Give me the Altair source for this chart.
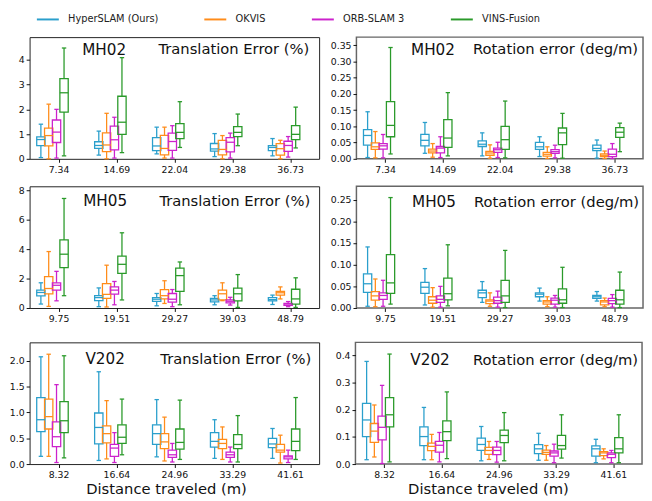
import altair as alt
import pandas as pd

METHODS = ["HyperSLAM (Ours)", "OKVIS", "ORB-SLAM 3", "VINS-Fusion"]
COLORS = ["#2a9fcc", "#ff8c1a", "#cc22cc", "#2a9a2a"]

MH02_DIST = ["7.34", "14.69", "22.04", "29.38", "36.73"]
MH05_DIST = ["9.75", "19.51", "29.27", "39.03", "48.79"]
V202_DIST = ["8.32", "16.64", "24.96", "33.29", "41.61"]

# each box: [whisker_low, q1, median, q3, whisker_high]; 4 methods per distance group
MH02_TRANS = [
    [0.05, 0.53, 0.78, 0.89, 1.40], [0.00, 0.52, 0.94, 1.24, 2.21], [0.03, 0.66, 1.08, 1.57, 2.00], [0.12, 1.89, 2.67, 3.24, 4.48],
    [0.15, 0.42, 0.54, 0.69, 1.12], [0.00, 0.29, 0.56, 1.05, 1.84], [0.03, 0.36, 0.77, 1.32, 1.68], [0.25, 0.99, 1.48, 2.53, 4.09],
    [0.20, 0.33, 0.52, 0.86, 1.28], [0.03, 0.16, 0.42, 0.95, 1.28], [0.03, 0.34, 0.70, 1.04, 1.34], [0.46, 0.82, 1.07, 1.42, 2.31],
    [0.09, 0.31, 0.40, 0.62, 1.02], [0.00, 0.16, 0.38, 0.75, 0.94], [0.03, 0.28, 0.67, 0.86, 1.04], [0.53, 0.90, 1.07, 1.30, 1.81],
    [0.12, 0.33, 0.46, 0.53, 0.82], [0.00, 0.15, 0.41, 0.61, 0.75], [0.07, 0.30, 0.54, 0.71, 0.90], [0.44, 0.78, 0.99, 1.34, 2.09],
]
MH02_ROT = [
    [0.004, 0.042, 0.072, 0.090, 0.145], [0.003, 0.029, 0.037, 0.049, 0.084], [0.003, 0.030, 0.040, 0.047, 0.075], [0.015, 0.068, 0.103, 0.176, 0.343],
    [0.017, 0.040, 0.057, 0.075, 0.112], [0.005, 0.018, 0.024, 0.030, 0.047], [0.004, 0.018, 0.033, 0.038, 0.068], [0.009, 0.035, 0.064, 0.121, 0.204],
    [0.009, 0.038, 0.045, 0.055, 0.080], [0.002, 0.011, 0.018, 0.023, 0.043], [0.004, 0.020, 0.028, 0.033, 0.051], [0.003, 0.029, 0.059, 0.100, 0.178],
    [0.007, 0.029, 0.037, 0.051, 0.068], [0.001, 0.008, 0.014, 0.020, 0.037], [0.003, 0.017, 0.022, 0.028, 0.042], [0.002, 0.044, 0.080, 0.095, 0.140],
    [0.002, 0.025, 0.032, 0.042, 0.058], [0.001, 0.007, 0.011, 0.015, 0.024], [0.001, 0.007, 0.014, 0.030, 0.047], [0.022, 0.066, 0.082, 0.096, 0.110],
]
MH05_TRANS = [
    [0.27, 0.82, 1.06, 1.22, 1.72], [0.11, 0.97, 1.33, 2.14, 3.85], [0.49, 1.22, 1.55, 1.72, 2.50], [0.84, 2.76, 3.67, 4.64, 7.47],
    [0.09, 0.51, 0.71, 0.84, 1.37], [0.07, 0.66, 0.93, 1.66, 2.92], [0.22, 0.95, 1.22, 1.44, 1.81], [0.55, 2.36, 2.98, 3.54, 5.13],
    [0.15, 0.46, 0.60, 0.71, 0.99], [0.31, 0.62, 0.84, 1.26, 1.86], [0.09, 0.40, 0.60, 0.99, 1.26], [0.22, 1.13, 2.21, 2.72, 3.14],
    [0.22, 0.42, 0.55, 0.66, 0.84], [0.50, 0.55, 0.97, 1.22, 1.72], [0.20, 0.35, 0.46, 0.55, 0.73], [0.04, 0.49, 0.97, 1.35, 2.28],
    [0.24, 0.49, 0.57, 0.71, 0.88], [0.62, 0.88, 1.04, 1.13, 1.44], [0.09, 0.18, 0.27, 0.31, 0.44], [0.04, 0.27, 0.62, 1.28, 2.06],
]
MH05_ROT = [
    [0.004, 0.036, 0.056, 0.079, 0.141], [0.003, 0.018, 0.028, 0.038, 0.067], [0.004, 0.020, 0.029, 0.035, 0.064], [0.009, 0.034, 0.058, 0.123, 0.255],
    [0.007, 0.034, 0.048, 0.059, 0.091], [0.002, 0.011, 0.018, 0.026, 0.047], [0.002, 0.013, 0.020, 0.028, 0.050], [0.005, 0.019, 0.033, 0.069, 0.146],
    [0.013, 0.024, 0.035, 0.041, 0.061], [0.004, 0.010, 0.016, 0.019, 0.035], [0.002, 0.011, 0.017, 0.025, 0.039], [0.001, 0.013, 0.028, 0.064, 0.133],
    [0.016, 0.026, 0.032, 0.035, 0.046], [0.003, 0.009, 0.014, 0.017, 0.026], [0.002, 0.009, 0.018, 0.023, 0.029], [0.001, 0.011, 0.019, 0.044, 0.094],
    [0.016, 0.022, 0.026, 0.029, 0.038], [0.003, 0.007, 0.014, 0.017, 0.023], [0.002, 0.010, 0.017, 0.022, 0.031], [0.001, 0.009, 0.019, 0.041, 0.083],
]
V202_TRANS = [
    [0.15, 0.63, 0.86, 1.29, 2.08], [0.15, 0.68, 0.92, 1.26, 2.13], [0.03, 0.34, 0.53, 0.82, 1.54], [0.12, 0.61, 0.84, 1.21, 2.10],
    [0.07, 0.39, 0.71, 0.99, 1.79], [0.10, 0.41, 0.59, 0.74, 1.23], [0.03, 0.15, 0.31, 0.38, 0.61], [0.18, 0.40, 0.52, 0.76, 1.26],
    [0.14, 0.38, 0.59, 0.76, 1.25], [0.06, 0.30, 0.43, 0.59, 0.91], [0.04, 0.13, 0.18, 0.27, 0.40], [0.09, 0.29, 0.42, 0.68, 1.24],
    [0.11, 0.33, 0.44, 0.61, 0.86], [0.09, 0.30, 0.40, 0.48, 0.72], [0.04, 0.13, 0.18, 0.23, 0.33], [0.04, 0.30, 0.38, 0.57, 0.94],
    [0.11, 0.32, 0.39, 0.50, 0.69], [0.02, 0.23, 0.27, 0.38, 0.56], [0.03, 0.10, 0.14, 0.16, 0.27], [0.09, 0.26, 0.44, 0.68, 1.29],
]
V202_ROT = [
    [0.016, 0.101, 0.162, 0.223, 0.377], [0.026, 0.080, 0.121, 0.149, 0.217], [0.002, 0.089, 0.135, 0.176, 0.289], [0.008, 0.137, 0.181, 0.244, 0.404],
    [0.016, 0.068, 0.101, 0.137, 0.208], [0.016, 0.049, 0.065, 0.077, 0.109], [0.008, 0.044, 0.069, 0.083, 0.116], [0.020, 0.086, 0.119, 0.159, 0.265],
    [0.012, 0.050, 0.072, 0.095, 0.138], [0.017, 0.036, 0.050, 0.061, 0.083], [0.007, 0.035, 0.050, 0.062, 0.083], [0.012, 0.079, 0.105, 0.125, 0.189],
    [0.014, 0.038, 0.056, 0.071, 0.113], [0.014, 0.036, 0.043, 0.051, 0.068], [0.005, 0.029, 0.041, 0.048, 0.073], [0.022, 0.055, 0.068, 0.105, 0.181],
    [0.005, 0.029, 0.056, 0.067, 0.091], [0.019, 0.031, 0.041, 0.046, 0.056], [0.005, 0.024, 0.036, 0.041, 0.050], [0.005, 0.041, 0.056, 0.097, 0.181],
]

FONT = "DejaVu Sans"
OFFSETS = [-0.305, -0.17, -0.035, 0.095]
BOX_HALF = 0.072
CAP_HALF = 0.038
LW = 1.3

LEGEND = alt.Legend(orient="none", legendX=11.6, legendY=-25, direction="horizontal", padding=0,
                    title=None, symbolType="M-2,0H2", symbolSize=125,
                    symbolStrokeWidth=2, labelFontSize=10, labelFont=FONT,
                    columnPadding=41.6, labelOffset=13.6, labelColor="#222")


def make_panel(seq, metric, dists, stats, ymax, yticks, yfmt, left, bottom, name_pos, metric_pos):
    rows = []
    for g in range(len(dists)):
        for m in range(len(METHODS)):
            lo, q1, med, q3, hi = stats[g * len(METHODS) + m]
            rows.append({"x": g + 1 + OFFSETS[m], "method": METHODS[m],
                         "lo": lo, "q1": q1, "med": med, "q3": q3, "hi": hi})
    df = pd.DataFrame(rows)
    label_arr = "[" + ",".join("'%s'" % d for d in dists) + "]"
    xscale = alt.Scale(domain=[0.5, len(dists) + 0.5], nice=False, zero=False)
    yscale = alt.Scale(domain=[0, ymax], nice=False, zero=False)
    color = alt.Color("method:N", scale=alt.Scale(domain=METHODS, range=COLORS), legend=LEGEND)
    xaxis = alt.Axis(values=list(range(1, len(dists) + 1)), labelExpr=label_arr + "[datum.value-1]",
                     title="Distance traveled (m)" if bottom else "",
                     titleFont=FONT, titleFontSize=15, titleFontWeight="normal", titleColor="#111",
                     titleX=139 if left else 135, titleY=25.5, titleBaseline="middle",
                     minExtent=18)
    yaxis = alt.Axis(values=yticks, format=yfmt, title="", minExtent=21 if left else 26)

    def X(f):
        return alt.X(f, type="quantitative", scale=xscale, axis=xaxis)

    def Y(f):
        return alt.Y(f, type="quantitative", scale=yscale, axis=yaxis)

    base = alt.Chart(df).transform_calculate(
        xl="datum.x - %f" % BOX_HALF, xr="datum.x + %f" % BOX_HALF,
        cl="datum.x - %f" % CAP_HALF, cr="datum.x + %f" % CAP_HALF,
    )
    whisk_lo = base.mark_rule(strokeWidth=LW).encode(x=X("x"), y=Y("lo"), y2="q1:Q", color=color)
    whisk_hi = base.mark_rule(strokeWidth=LW).encode(x=X("x"), y=Y("q3"), y2="hi:Q", color=color)
    cap_lo = base.mark_rule(strokeWidth=LW).encode(x=X("cl"), x2="cr:Q", y=Y("lo"), color=color)
    cap_hi = base.mark_rule(strokeWidth=LW).encode(x=X("cl"), x2="cr:Q", y=Y("hi"), color=color)
    box = base.mark_rect(filled=False, strokeWidth=LW).encode(
        x=X("xl"), x2="xr:Q", y=Y("q1"), y2="q3:Q", color=color)
    med = base.mark_rule(strokeWidth=LW).encode(x=X("xl"), x2="xr:Q", y=Y("med"), color=color)

    tdf = pd.DataFrame({"seq": [seq], "metric": [metric]})
    t_seq = alt.Chart(tdf).mark_text(font=FONT, fontSize=15.5, align="center", baseline="alphabetic",
                                     color="#111").encode(
        x=alt.value(name_pos[0]), y=alt.value(name_pos[1]), text="seq:N")
    t_met = alt.Chart(tdf).mark_text(font=FONT, fontSize=15, align="right", baseline="alphabetic",
                                     color="#111").encode(
        x=alt.value(metric_pos[0]), y=alt.value(metric_pos[1]), text="metric:N")

    return alt.layer(whisk_lo, whisk_hi, cap_lo, cap_hi, box, med, t_seq, t_met).properties(
        width=295 if left else 292, height=124,
        view=alt.ViewBackground(stroke="#222" if left else "#666", strokeWidth=1 if left else 1.5),
    )


p1 = make_panel("MH02", "Translation Error (%)", MH02_DIST, MH02_TRANS, 4.92, [0, 1, 2, 3, 4], "d",
                True, False, (76, 18), (285, 17))
p2 = make_panel("MH02", "Rotation error (deg/m)", MH02_DIST, MH02_ROT, 0.375,
                [0, 0.05, 0.1, 0.15, 0.2, 0.25, 0.3, 0.35], ".2f", False, False, (78, 18), (287, 17))
p3 = make_panel("MH05", "Translation Error (%)", MH05_DIST, MH05_TRANS, 8.3, [0, 2, 4, 6, 8], "d",
                True, False, (77, 20), (286, 20))
p4 = make_panel("MH05", "Rotation error (deg/m)", MH05_DIST, MH05_ROT, 0.281,
                [0, 0.05, 0.1, 0.15, 0.2, 0.25], ".2f", False, False, (79, 21), (288, 21))
p5 = make_panel("V202", "Translation Error (%)", V202_DIST, V202_TRANS, 2.36, [0, 0.5, 1, 1.5, 2], ".1f",
                True, True, (77, 22.5), (287, 22.5))
p6 = make_panel("V202", "Rotation error (deg/m)", V202_DIST, V202_ROT, 0.447, [0, 0.1, 0.2, 0.3, 0.4], ".1f",
                False, True, (76, 23), (288, 23))

r1 = alt.hconcat(p1, p2, spacing=9)
r2 = alt.hconcat(p3, p4, spacing=9)
r3 = alt.hconcat(p5, p6, spacing=9)

chart = alt.vconcat(alt.vconcat(r1, r2, spacing=7), r3, spacing=15).properties(
    padding={"left": 0, "top": 0, "right": 0, "bottom": 0},
    background="white",
).configure_axis(
    labelFont=FONT, labelFontSize=9.5, labelColor="#111", tickColor="#111", tickSize=3.5,
    labelPadding=2, domain=False, grid=False,
).configure_view(stroke="#222")

chart.save("out.html", embed_options={"renderer": "svg", "actions": False})
